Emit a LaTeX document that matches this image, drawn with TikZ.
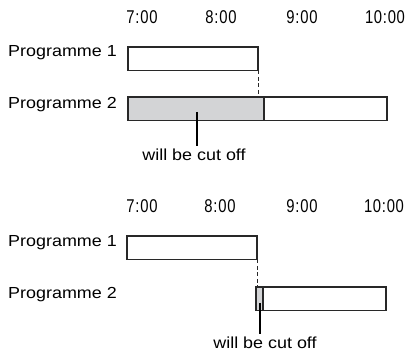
\documentclass[tikz,border=0pt]{standalone}
\usepackage{fontspec}
\setmainfont[FakeStretch=1.12]{Liberation Sans}
\newfontfamily\clockfont[FakeStretch=0.8,LetterSpace=4]{Liberation Sans}
\usepackage{xcolor}
\usepackage{tikz}
\usetikzlibrary{positioning}
\definecolor{cutgray}{RGB}{211,212,214}
\definecolor{edge}{RGB}{40,40,40}

\begin{document}
\begin{tikzpicture}[x=1pt,y=-1pt,font=\fontsize{16}{18}\selectfont,
      bar/.style={draw=edge,line width=1.6pt,anchor=north west,minimum height=23.5pt,inner sep=0pt,outer sep=0pt,fill=white},
      cut/.style={bar,fill=cutgray},
      clock/.style={anchor=base,inner sep=0pt,font=\clockfont\fontsize{18.5}{20}\selectfont},
      prog/.style={anchor=base east,inner sep=0pt},
      note/.style={anchor=base,inner sep=3pt},
      ptr/.style={line width=2.2pt},
      gap/.style={draw=edge,line width=1pt,dash pattern=on 4pt off 2.5pt}]
    \useasboundingbox (0,0) rectangle (408,352);
    % upper case: programme 2 starts first
    \foreach \h/\x in {7/142,8/221,9/302,10/385}
      \node[clock] (ta\h) at (\x,24) {\h:00};
    \node[prog] (la1) at (117,57) {Programme 1};
    \node[prog] (la2) at (117,109) {Programme 2};
    \node[bar,minimum width=130pt] (pa1) at (128,47) {};
    \node[cut,minimum width=136pt] (ca2) at (128,97) {};
    \node[bar,minimum width=123pt,right=0pt of ca2] (pa2) {};
    \draw[gap] (pa1.south east) -- (pa1.south east |- ca2.north);
    \coordinate (ka) at (197,112);
    \node[note] (na) at (194,161) {will be cut off};
    \draw[ptr] (ka) -- (ka |- na.north);
    % lower case: programme 2 starts after programme 1
    \foreach \h/\x in {7/142,8/220,9/302,10/384}
      \node[clock] (tb\h) at (\x,213) {\h:00};
    \node[prog] (lb1) at (117,247) {Programme 1};
    \node[prog] (lb2) at (117,299) {Programme 2};
    \node[bar,minimum width=130pt] (pb1) at (127,236) {};
    \node[cut,minimum width=7pt] (cb2) at (256,287) {};
    \node[bar,minimum width=123pt,right=0pt of cb2] (pb2) {};
    \draw[gap] (pb1.south east) -- (pb1.south east |- cb2.north);
    \coordinate (kb) at (260,303);
    \node[note] (nb) at (265,349) {will be cut off};
    \draw[ptr] (kb) -- (kb |- nb.north);
  \end{tikzpicture}
\end{document}
